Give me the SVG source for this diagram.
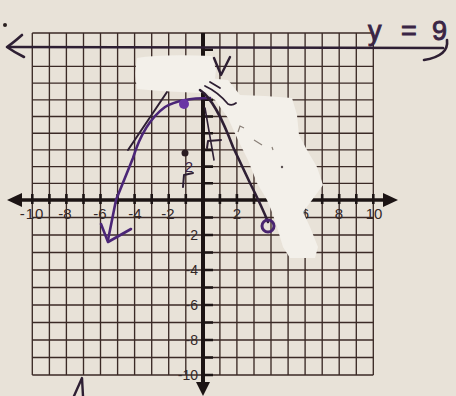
<svg xmlns="http://www.w3.org/2000/svg" width="456" height="396" viewBox="0 0 456 396">
<defs>
<style>
.g{stroke:#3b2a26;stroke-width:1.35;fill:none}
.ax{stroke:#1c1414;fill:none;stroke-linecap:butt}
.tk{stroke:#1c1414;stroke-width:2.6}
.lb{font-family:"Liberation Sans",Arial,sans-serif;font-size:15px;fill:#332828}
.ly{font-family:"Liberation Sans",Arial,sans-serif;font-size:14px;fill:#332828}
.pen{stroke:#2e1f33;fill:none;stroke-linecap:round;stroke-linejoin:round}
.pur{stroke:#4b2677;fill:none;stroke-linecap:round;stroke-linejoin:round}
.wo{fill:#f3f0ea}
</style>
</defs>
<rect width="456" height="396" fill="#e8e2d8"/>
<g id="grid" class="g">
<path d="M32.3 33V375M49.4 33V375M66.4 33V375M83.5 33V375M100.5 33V375M117.6 33V375M134.6 33V375M151.7 33V375M168.7 33V375M185.8 33V375M219.9 33V375M236.9 33V375M254 33V375M271 33V375M288.1 33V375M305.1 33V375M322.2 33V375M339.2 33V375M356.3 33V375M373.3 33V375"/>
<path d="M32.3 33H373.3M32.3 66.4H373.3M32.3 83.1H373.3M32.3 99.8H373.3M32.3 116.5H373.3M32.3 133.2H373.3M32.3 149.9H373.3M32.3 166.6H373.3M32.3 183.3H373.3M32.3 217.5H373.3M32.3 235H373.3M32.3 252.5H373.3M32.3 270H373.3M32.3 287.5H373.3M32.3 305H373.3M32.3 322.5H373.3M32.3 340H373.3M32.3 357.5H373.3M32.3 375H373.3"/>
</g>
<g id="x-axis">
<path class="ax" d="M20 200H386" stroke-width="3.6"/>
<polygon points="7,200 22,193 22,207" fill="#1c1414"/>
<polygon points="398,200 383,193 383,207" fill="#1c1414"/>
<path class="tk" d="M32.3 194V204M49.4 194V204M66.4 194V204M83.5 194V204M100.5 194V204M117.6 194V204M134.6 194V204M151.7 194V204M168.7 194V204M185.8 194V204M219.9 194V204M236.9 194V204M254 194V204M271 194V204M288.1 194V204M305.1 194V204M322.2 194V204M339.2 194V204M356.3 194V204M373.3 194V204"/>
<text class="lb" x="32" y="219" text-anchor="middle" letter-spacing="1">-10</text>
<text class="lb" x="65" y="219" text-anchor="middle">-8</text>
<text class="lb" x="100" y="219" text-anchor="middle">-6</text>
<text class="lb" x="135" y="219" text-anchor="middle">-4</text>
<text class="lb" x="168" y="219" text-anchor="middle">-2</text>
<text class="lb" x="237" y="219" text-anchor="middle">2</text>
<text class="lb" x="305" y="219" text-anchor="middle">6</text>
<text class="lb" x="339" y="219" text-anchor="middle">8</text>
<text class="lb" x="374" y="219" text-anchor="middle">10</text>
</g>
<g id="y-axis">
<path class="ax" d="M203 33V384" stroke-width="4"/>
<polygon points="203,396 196,382 210,382" fill="#1c1414"/>
<path class="tk" d="M203 49.7H213M203 66.4H213M203 83.1H213M203 99.8H213M203 116.5H213M203 133.2H213M203 149.9H213M203 166.6H213M203 183.3H213M203 217.5H213M203 235H213M203 252.5H213M203 270H213M203 287.5H213M203 305H213M203 322.5H213M203 340H213M203 357.5H213M203 375H213"/>
<text class="ly" x="198" y="240" text-anchor="end">-2</text>
<text class="ly" x="198" y="275" text-anchor="end">-4</text>
<text class="ly" x="198" y="310" text-anchor="end">-6</text>
<text class="ly" x="198" y="345" text-anchor="end">-8</text>
<text class="ly" x="198" y="380" text-anchor="end">-10</text>
</g>
<g id="line-y9">
<path class="pen" d="M10 47L443 48" stroke-width="2.6"/>
<path class="pen" d="M22 35Q13 43 7 47Q14 52 24 57" stroke-width="2.6"/>
<text y="40" font-family="'Liberation Sans',Arial,sans-serif" font-size="27" fill="#3a2545" stroke="#3a2545" stroke-width="0.9"><tspan x="368">y</tspan><tspan x="401">=</tspan><tspan x="432">9</tspan></text>
<path class="pen" d="M447 40Q449 56 424 60" stroke-width="2.6"/>
</g>
<g id="whiteout">
<path class="wo" d="M137 58Q160 54 212 56L216 70L214 86Q210 93 200 93L160 91L137 89Q134 74 137 58Z"/>
<path class="wo" d="M208 78L228 80L240 95L265 96L292 98L297 115L299 135L307 150L317 167L323 185L312 200L303 212L310 227L318 247L315 258L290 258L283 247L277 227L272 212L267 200L257 183L248 160L238 140L228 118L215 100L206 92Z"/>
<path d="M238 132L240 126L244 128M254 140L262 145M272 147L273 150" stroke="#8a8078" stroke-width="1.2" fill="none"/>
<circle cx="282" cy="167" r="1.2" fill="#5a5050"/>
</g>
<g id="parabola">
<path class="pur" d="M108 240L116 200L133 158C140 135 150 118 165 107C175 101 190 98 210 98" stroke-width="2.6"/>
<path class="pur" d="M101 224L108 242L131 229" stroke-width="2.6"/>
<path class="pen" d="M128 150L167 92" stroke-width="2"/>
<path class="pen" d="M200 90C212 98 222 118 233 147L250 183C256 195 262 207 268 222" stroke-width="2.6"/>
<path class="pen" d="M205 108L214 160" stroke-width="1.6"/>
<circle cx="184" cy="104" r="5" fill="#6a35a5"/>
<circle cx="268" cy="226" r="6" fill="none" stroke="#4a2570" stroke-width="3"/>
</g>
<g id="annotations">
<path class="pen" d="M205 86Q218 92 228 104Q232 106 236 103M210 82L220 88" stroke-width="1.8"/>
<path class="pen" d="M214 58L221 75L230 57" stroke-width="2.4"/>
<circle cx="185" cy="153" r="3.5" fill="#2a1c22"/>
<text x="189" y="172" font-family="'Liberation Sans',Arial,sans-serif" font-size="15" fill="#3a2245" text-anchor="middle">2</text>
<path class="pen" d="M193 173L184 175L183 187" stroke-width="2"/>
<path class="pen" d="M221 140L208 141L207 148" stroke-width="2"/>
<path class="pen" d="M74 396L82 378L83 396" stroke-width="2.4"/>
<circle cx="5" cy="25" r="2" fill="#2a2020"/>
</g>
</svg>
